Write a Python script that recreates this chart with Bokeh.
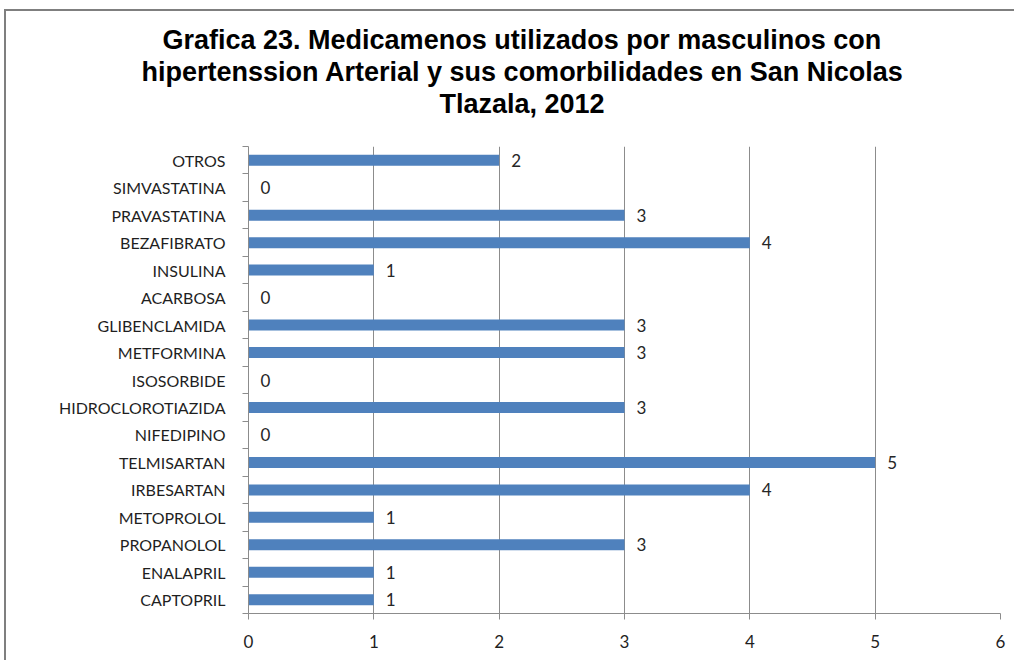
from bokeh.plotting import figure
from bokeh.models import Range1d, Title, FixedTicker, ColumnDataSource
from bokeh.core.properties import value
from bokeh.embed import file_html
from bokeh.resources import INLINE

categories = ["OTROS", "SIMVASTATINA", "PRAVASTATINA", "BEZAFIBRATO", "INSULINA",
              "ACARBOSA", "GLIBENCLAMIDA", "METFORMINA", "ISOSORBIDE",
              "HIDROCLOROTIAZIDA", "NIFEDIPINO", "TELMISARTAN", "IRBESARTAN",
              "METOPROLOL", "PROPANOLOL", "ENALAPRIL", "CAPTOPRIL"]
counts = [2, 0, 3, 4, 1, 0, 3, 3, 0, 3, 0, 5, 4, 1, 3, 1, 1]
x_ticks = [0, 1, 2, 3, 4, 5, 6]
title_lines = ["Grafica 23. Medicamenos utilizados por masculinos con",
               "hipertenssion Arterial  y sus comorbilidades en San Nicolas",
               "Tlazala, 2012"]
title_offsets = [-86, -107, 191]

n = len(categories)
ypos = [n - i - 0.5 for i in range(n)]
src = ColumnDataSource(dict(y=ypos, val=counts, lab=[str(c) for c in counts]))

p = figure(width=1010, height=652, output_backend="svg", toolbar_location=None,
           y_range=Range1d(0, n), x_range=Range1d(0, 6),
           min_border_left=242, min_border_right=16, min_border_top=135,
           min_border_bottom=50)
p.title = None
# spacer between title block and plot frame
p.add_layout(Title(text=" ", standoff=0, text_font_size="23px"), "above")
for line, off in reversed(list(zip(title_lines, title_offsets))):
    p.add_layout(Title(text=line, align="left", offset=off, standoff=0,
                       text_font="Liberation Sans", text_font_size="27px",
                       text_line_height=0.8,
                       text_font_style="bold", text_color="#000000"), "above")

p.hbar(y="y", right="val", left=0, height=0.4, source=src,
       fill_color="#4F81BD", line_color=None)
p.text(x="val", y="y", text="lab", source=src, x_offset=12,
       text_baseline="middle", text_align="left",
       text_font=value("Lato"), text_font_size="17px",
       text_color="#262626")

p.outline_line_color = None
p.ygrid.grid_line_color = None
p.xgrid.grid_line_color = "#8c8c8c"
p.xgrid.grid_line_width = 1
p.xaxis.ticker = FixedTicker(ticks=x_ticks)
p.yaxis.ticker = FixedTicker(ticks=ypos, minor_ticks=list(range(n + 1)))
p.yaxis.major_label_overrides = {y: c for y, c in zip(ypos, categories)}
for ax in (p.xaxis[0], p.yaxis[0]):
    ax.axis_line_color = "#8c8c8c"
    ax.major_tick_line_color = "#8c8c8c"
    ax.major_label_text_font = "Lato"
    ax.major_label_text_font_size = "16px"
    ax.major_label_text_color = "#1f1f1f"
    ax.major_label_text_font_style = "normal"
p.xaxis.major_label_text_font_size = "17px"
p.xaxis.major_tick_in = 0
p.xaxis.major_tick_out = 6
p.xaxis.minor_tick_line_color = None
p.xaxis.major_label_standoff = 15
p.yaxis.major_tick_line_color = None
p.yaxis.minor_tick_line_color = "#8c8c8c"
p.yaxis.minor_tick_in = 0
p.yaxis.minor_tick_out = 6
p.yaxis.major_label_standoff = 17

p.styles = {"border-left": "2px solid #7f7f7f", "border-top": "2px solid #7f7f7f",
            "margin-left": "4px", "margin-top": "9px"}

open("out.html", "w").write(file_html(p, INLINE))
